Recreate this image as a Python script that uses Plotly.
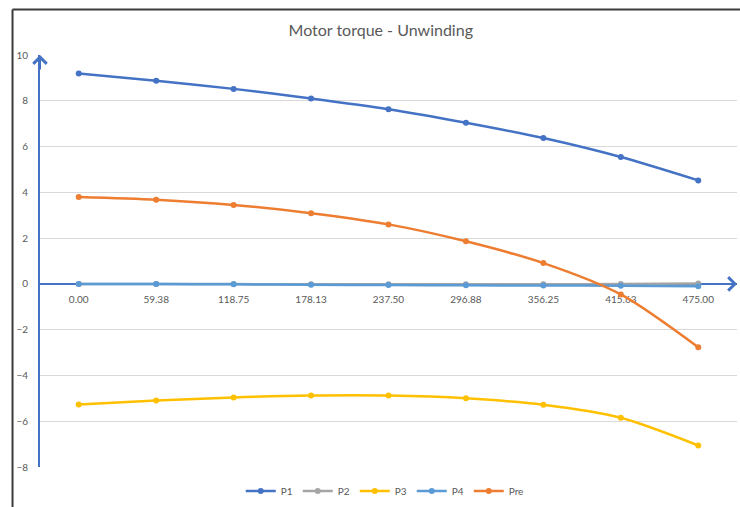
import plotly.graph_objects as go

categories = ["0.00", "59.38", "118.75", "178.13", "237.50", "296.88", "356.25", "415.63", "475.00"]
P1 = [9.19, 8.87, 8.52, 8.10, 7.63, 7.04, 6.37, 5.54, 4.52]
P2 = [0.00, -0.01, -0.01, -0.02, -0.02, -0.02, -0.02, -0.01, 0.02]
P3 = [-5.27, -5.10, -4.96, -4.88, -4.88, -5.00, -5.28, -5.85, -7.06]
P4 = [0.00, -0.01, -0.02, -0.04, -0.05, -0.06, -0.07, -0.08, -0.10]
Pre = [3.80, 3.68, 3.45, 3.09, 2.60, 1.86, 0.91, -0.46, -2.77]
y_ticks = [-8, -6, -4, -2, 0, 2, 4, 6, 8, 10]

series = [("P1", P1, "#4472C4"), ("P2", P2, "#A5A5A5"), ("P3", P3, "#FFC000"),
          ("P4", P4, "#5B9BD5"), ("Pre", Pre, "#ED7D31")]

fig = go.Figure()
for name, vals, col in series:
    fig.add_trace(go.Scatter(
        x=categories, y=vals, name=name, mode="lines+markers",
        line=dict(color=col, width=2.5, shape="spline", smoothing=0.8),
        marker=dict(color=col, size=6),
    ))

W, H = 740, 507
L, R, T, B = 40, 2.5, 55, 39
ph = H - T - B
pw = W - L - R
zero_pos = (ph - (284.7 - T)) / ph

axis_col = "#4472C4"
fig.update_layout(
    width=W, height=H,
    margin=dict(l=L, r=R, t=T, b=B),
    paper_bgcolor="white", plot_bgcolor="white",
    font=dict(family="Lato", color="#595959", size=10),
    title=dict(text="Motor torque - Unwinding", x=(381 - L) / pw, xref="paper", xanchor="center",
               y=1 - 30 / H, yanchor="middle", font=dict(size=16, color="#595959", family="Lato")),
    showlegend=True,
    legend=dict(orientation="h", x=(385 - L) / pw, xanchor="center", y=-(491 - (H - B)) / ph,
                yanchor="middle", font=dict(size=10, color="#595959"), itemwidth=30,
                bgcolor="rgba(0,0,0,0)"),
    xaxis=dict(type="category", range=[-0.5, 8.5], showgrid=False, zeroline=False,
               anchor="free", position=zero_pos, showline=True, linecolor=axis_col, linewidth=2,
               layer="below traces", ticks="", ticklabelstandoff=6,
               tickfont=dict(size=10, color="#595959")),
    yaxis=dict(range=[-8, 10], tickvals=y_ticks, showgrid=True, gridcolor="#D9D9D9", gridwidth=1,
               zeroline=False, showline=True, linecolor=axis_col, linewidth=2, layer="below traces",
               ticks="", ticklabelstandoff=8, tickfont=dict(size=10, color="#595959")),
)

# arrow heads on axes
fig.add_annotation(x=8.5, y=0, ax=8.2, ay=0, xref="x", yref="y", axref="x", ayref="y",
                   showarrow=True, arrowhead=4, arrowwidth=2, arrowsize=1.3, arrowcolor=axis_col, text="")
fig.add_annotation(x=-0.5, y=10, ax=-0.5, ay=9.3, xref="x", yref="y", axref="x", ayref="y",
                   showarrow=True, arrowhead=4, arrowwidth=2, arrowsize=1.3, arrowcolor=axis_col, text="")

# outer frame (partially visible)
fx = (12.5 - L) / pw
fy = (H - B - 9.5) / ph
fig.add_shape(type="line", xref="paper", yref="paper", x0=fx, x1=fx, y0=fy, y1=-(B + 5) / ph,
              line=dict(color="#3a3a3a", width=2))
fig.add_shape(type="line", xref="paper", yref="paper", x0=fx, x1=(W + 5 - L) / pw, y0=fy, y1=fy,
              line=dict(color="#3a3a3a", width=2))

fig.write_html("out.html", config={"displayModeBar": False},
               post_script="document.body.style.margin='0';document.body.style.overflow='hidden';")
